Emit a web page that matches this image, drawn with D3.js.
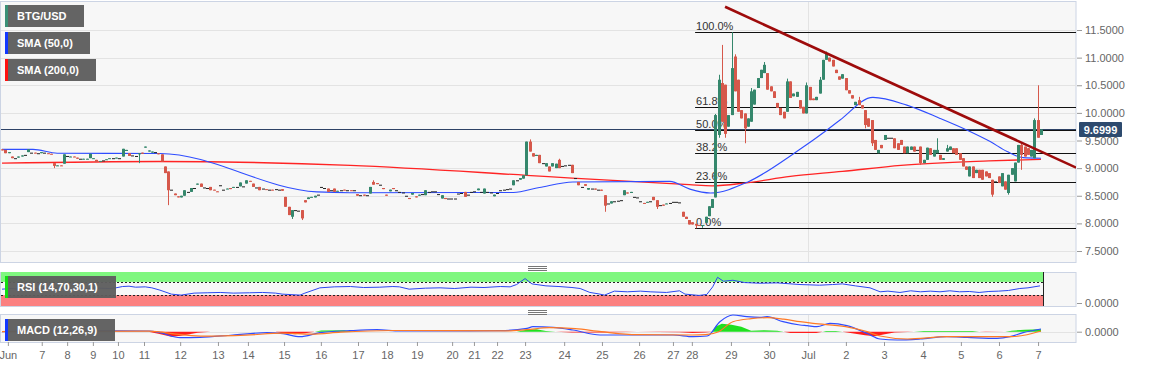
<!DOCTYPE html>
<html>
<head>
<meta charset="utf-8">
<script src="https://cdn.jsdelivr.net/npm/d3@7"></script>
<style>
  body { margin: 0; background: #fff; }
  svg text { font-family: "Liberation Sans", Arial, sans-serif; }
</style>
</head>
<body>
<svg id="chart" width="1153" height="367"></svg>
<script>
// ---- data (2h candles, index based) ----
var dayLabels = ['Jun','7','8','9','10','11','12','13','14','15','16','17','18','19','20','21','22','23','24','25','26','27','28','29','30','Jul','2','3','4','5','6','7']
var dayIndex = [1.8,12.2,20,27.9,35.6,43.6,54.7,66.3,75.5,86.6,97.9,109.3,118.2,127.4,138.2,144.9,152,160.6,172.6,184.2,195.6,206,211.8,223.8,235.5,247.5,259.1,270.8,282.8,294.4,306.1,318.1]

var opens = [
  9.34,9.33,9.27,9.21,9.18,9.19,9.21,9.24,9.29,9.28,
  9.28,9.27,9.27,9.28,9.27,9.26,9.09,9.04,9.05,9.08,
  9.22,9.20,9.21,9.19,9.17,9.16,9.16,9.18,9.17,9.15,
  9.12,9.14,9.15,9.17,9.18,9.18,9.18,9.21,9.31,9.27,
  9.23,9.22,9.25,9.28,9.37,9.30,9.28,9.29,9.27,9.25,
  9.03,8.94,8.61,8.54,8.49,8.47,8.50,8.57,8.57,8.64,
  8.70,8.72,8.65,8.64,8.66,8.61,8.58,8.69,8.61,8.62,
  8.64,8.65,8.66,8.67,8.67,8.72,8.77,8.72,8.65,8.66,
  8.63,8.62,8.61,8.61,8.62,8.61,8.62,8.48,8.30,8.12,
  8.24,8.23,8.24,8.42,8.44,8.47,8.47,8.52,8.66,8.64,
  8.63,8.60,8.63,8.58,8.60,8.61,8.60,8.60,8.60,8.53,
  8.51,8.52,8.51,8.54,8.75,8.73,8.70,8.64,8.52,8.58,
  8.64,8.60,8.57,8.56,8.50,8.46,8.52,8.49,8.50,8.53,
  8.51,8.57,8.58,8.58,8.53,8.45,8.46,8.45,8.45,8.45,
  8.54,8.55,8.57,8.52,8.57,8.58,8.60,8.57,8.54,8.57,
  8.56,8.49,8.55,8.60,8.61,8.62,8.63,8.69,8.78,8.79,
  8.81,8.87,9.48,9.27,9.22,9.24,9.09,9.03,9.03,9.03,
  9.00,9.15,9.04,9.05,9.06,9.06,8.82,8.75,8.66,8.71,
  8.61,8.63,8.63,8.61,8.61,8.51,8.36,8.36,8.40,8.41,
  8.42,8.51,8.56,8.55,8.48,8.47,8.40,8.37,8.38,8.40,
  8.48,8.42,8.33,8.34,8.35,8.37,8.39,8.39,8.38,8.21,
  8.12,8.06,8.02,7.99,7.97,7.96,8.01,8.13,8.28,8.47,
  9.60,10.54,10.51,9.75,9.96,11.02,10.60,10.05,9.99,9.75,
  9.84,10.15,10.45,10.63,10.72,10.72,10.48,10.39,10.18,10.09,
  10.02,10.02,10.57,10.30,10.29,10.23,10.11,9.99,10.47,10.26,
  10.23,10.35,10.60,10.96,11.00,10.96,10.78,10.66,10.62,10.63,
  10.41,10.32,10.14,10.23,10.14,10.05,9.90,9.87,9.51,9.27,
  9.42,9.51,9.55,9.55,9.54,9.45,9.51,9.39,9.27,9.33,
  9.39,9.33,9.39,9.09,9.15,9.36,9.21,9.27,9.24,9.15,
  9.30,9.33,9.36,9.36,9.27,9.18,9.03,8.85,9.03,8.91,
  8.97,8.97,8.94,8.91,8.79,8.76,8.85,8.67,8.76,8.55,
  8.88,8.76,9.10,9.42,9.39,9.36,9.21,9.18,9.87,9.60
]
var closes = [
  9.32,9.27,9.29,9.18,9.18,9.21,9.23,9.24,9.34,9.28,
  9.27,9.27,9.29,9.28,9.26,9.25,9.04,9.05,9.04,9.25,
  9.22,9.21,9.20,9.17,9.17,9.17,9.17,9.26,9.18,9.11,
  9.13,9.14,9.16,9.18,9.18,9.19,9.18,9.35,9.33,9.22,
  9.23,9.22,9.27,9.26,9.39,9.32,9.30,9.29,9.25,9.12,
  8.91,8.60,8.61,8.51,8.47,8.50,8.60,8.57,8.64,8.64,
  8.72,8.66,8.65,8.64,8.60,8.60,8.57,8.69,8.61,8.63,
  8.62,8.66,8.66,8.74,8.67,8.78,8.76,8.66,8.65,8.60,
  8.63,8.61,8.61,8.60,8.62,8.61,8.59,8.30,8.15,8.24,
  8.24,8.23,8.09,8.38,8.47,8.48,8.50,8.52,8.66,8.64,
  8.57,8.60,8.57,8.59,8.60,8.60,8.60,8.59,8.60,8.50,
  8.51,8.50,8.51,8.66,8.70,8.71,8.70,8.62,8.50,8.61,
  8.62,8.60,8.57,8.56,8.50,8.44,8.55,8.47,8.52,8.53,
  8.60,8.57,8.58,8.58,8.53,8.51,8.44,8.45,8.45,8.45,
  8.54,8.55,8.48,8.52,8.57,8.58,8.63,8.57,8.63,8.57,
  8.56,8.52,8.55,8.60,8.61,8.62,8.63,8.78,8.78,8.82,
  8.87,9.48,9.30,9.21,9.24,9.09,9.09,9.09,8.94,9.09,
  9.08,9.00,9.04,9.05,9.06,8.91,8.82,8.69,8.66,8.68,
  8.64,8.63,8.61,8.61,8.59,8.32,8.36,8.40,8.40,8.41,
  8.42,8.60,8.54,8.57,8.48,8.47,8.40,8.36,8.39,8.40,
  8.42,8.30,8.33,8.32,8.36,8.37,8.39,8.39,8.38,8.12,
  8.08,7.98,7.98,7.96,7.96,7.97,8.12,8.31,8.44,9.96,
  10.60,9.84,9.62,9.96,10.81,10.39,10.02,9.90,9.72,9.90,
  10.39,10.42,10.63,10.78,10.87,10.42,10.39,10.27,10.09,9.96,
  9.90,10.57,10.27,10.35,10.38,10.08,9.99,10.50,10.23,10.23,
  10.29,10.60,10.96,11.08,10.93,10.84,10.72,10.60,10.70,10.41,
  10.35,10.26,10.20,10.14,10.08,9.78,9.75,9.45,9.33,9.33,
  9.36,9.60,9.55,9.55,9.36,9.33,9.42,9.27,9.39,9.39,
  9.30,9.33,9.09,9.15,9.37,9.24,9.33,9.33,9.15,9.18,
  9.36,9.39,9.27,9.24,9.15,9.03,8.97,9.03,8.82,8.97,
  8.82,8.79,8.85,8.82,8.52,8.76,8.73,8.91,8.61,8.88,
  9.00,9.10,9.42,9.24,9.21,9.24,9.33,9.87,9.55,9.6999
]
// visible wick ends [candle index, price]
var wickHighs = [[114,8.78],[162,9.52],[171,9.17],[219,9.98],[220,10.69],[221,11.23],[224,11.46],[225,11.06],[230,10.45],[234,10.92],[241,10.62],[247,10.55],[251,10.65],[253,11.11],[263,10.29],[287,9.54],[290,9.42],[313,9.45],[317,9.90],[318,10.50]]
var wickLows = [[16,9.00],[42,9.09],[51,8.33],[89,8.08],[92,8.06],[185,8.21],[201,8.26],[213,7.91],[215,7.92],[220,9.55],[222,9.55],[228,9.45],[265,9.72],[267,9.40],[282,9.06],[304,8.48],[309,8.52],[313,8.97]]

var sma50 = [[0,9.34],[9.5,9.34],[17,9.27],[48.5,9.265],[96.7,8.57],[106.8,8.555],[157,8.56],[165,8.65],[175.3,8.75],[205,8.76],[211.2,8.62],[217.5,8.55],[229,8.75],[244,9.30],[253.3,9.69],[257.3,9.87],[267.4,10.28],[277.8,10.14],[288,9.90],[296.2,9.69],[303.4,9.48],[308.6,9.30],[313.5,9.19],[319,9.18]]
var sma200 = [[0,9.09],[48,9.12],[107,9.05],[161,8.87],[175,8.82],[211,8.70],[218,8.68],[228,8.73],[242,8.85],[258,8.94],[276,9.05],[303,9.13],[319,9.16]]

var yTicks = [7.5, 8, 8.5, 9, 9.5, 10, 10.5, 11, 11.5]
var fibHigh = 11.46, fibLow = 7.91, fibStart = 212.8
var fibLevels = [1, 0.618, 0.5, 0.382, 0.236, 0]
var fibLabels = ['100.0%', '61.8%', '50.0%', '38.2%', '23.6%', '0.0%']
var trendLine = [[222, 11.92], [329.8, 9.008]]
var lastPrice = 9.6999

var rsi = [[0,48],[3,50],[6,47],[9,51],[12,48],[15,50],[18,50],[21,48],[24,49],[27,51],[30,51],[33,50],[35,52],[37,56],[39,57],[41,54],[44,55],[46,52],[48.5,45],[52,33],[55,30],[59,36],[63,37],[67,38],[71,36],[76,37],[80,38],[84,36],[86,33],[91.5,30],[93,36],[97.6,52],[102,55],[107,56],[111,53],[116,54],[120,56],[122,55],[125,48],[130,51],[134.5,52],[139,50],[144,54],[148,53],[153,56],[156,55],[158,62],[160.6,80],[162.7,64],[167,58],[171,56],[175,53],[177.5,50],[180.5,38],[183,34],[185,30],[188,42],[192,40],[196,42],[199,40],[204,38],[208,43],[209.7,33],[214,29],[216.4,32],[218.2,55],[219.7,84],[221.5,72],[224.4,75],[228,68],[232.7,66],[238,67],[245,62],[251,60],[255,62],[258,64],[262,58],[266.5,52],[269.6,40],[272,42],[275.7,38],[279,43],[282,40],[285,42],[288,40],[291,43],[294,40],[297,41],[300,38],[303,41],[306,42],[309,44],[312.5,50],[315,52],[318.7,58]]

var macdLine = [[0,0],[14.7,0.01],[45.4,0.007],[48.5,-0.01],[54.7,-0.06],[60.8,-0.057],[70.9,-0.033],[81.4,-0.01],[86.3,-0.02],[91.5,-0.05],[97.6,-0.01],[106.8,0.01],[115.1,0.02],[122.2,0.007],[152.9,0.01],[161.2,0.033],[163,0.05],[169.2,0.043],[175.3,0.017],[183.6,-0.033],[193.7,-0.033],[206,-0.033],[212.2,-0.05],[216.5,-0.043],[220.4,0.1],[224.4,0.167],[228.7,0.15],[232.7,0.143],[234.9,0.15],[239.8,0.1],[245,0.067],[247.2,0.06],[250.2,0.05],[254.2,0.083],[259.4,0.06],[265.6,-0.017],[269.6,-0.073],[274.8,-0.083],[281.9,-0.073],[290.1,-0.05],[296.3,-0.057],[305.5,-0.067],[309.5,-0.05],[313.5,-0.01],[319,0.027]]
var signalLine = [[0,0],[45,0.005],[55,-0.03],[62,-0.045],[75,-0.035],[86,-0.015],[95,-0.025],[104,-0.005],[120,0.012],[155,0.008],[161,0.02],[168,0.04],[176,0.03],[184,0],[195,-0.03],[212,-0.033],[216,-0.03],[220,0],[224.4,0.1],[230,0.13],[235,0.14],[240,0.125],[245,0.1],[249,0.083],[259,0.05],[265.6,0],[269.6,-0.043],[278,-0.073],[290,-0.05],[300,-0.05],[310,-0.05],[319,0.007]]
var histogram = [[0,0],[45,0],[48,-0.02],[52,-0.05],[55,-0.04],[60,-0.01],[64,0],[84,0],[86,-0.015],[90,-0.025],[93,-0.015],[96,0],[98,0.012],[105,0.015],[108,0],[158,0],[161,0.02],[164,0.025],[167,0.008],[170,0],[175,-0.008],[185,-0.008],[195,0],[208,-0.005],[212,-0.012],[216,-0.008],[218,0],[219,0.05],[221,0.08],[224,0.07],[227,0.05],[230,0.01],[234,0.015],[238,0.01],[240,0],[242,-0.012],[250,-0.012],[252,0],[253,0.008],[256,0.008],[258,0],[262,-0.02],[265,-0.035],[268,-0.045],[271,-0.025],[274,-0.008],[280,0],[283,0.008],[298,0.008],[300,0],[302,-0.004],[308,0],[310,0.01],[314,0.02],[319,0.025]]

// ---- layout ----
var plotRight = 1076,
    mainBox = {top: 1, bottom: 262},
    rsiBox = {top: 272, bottom: 306},
    macdBox = {top: 314, bottom: 342},
    green = '#35876c', red = '#d6584b', grid = '#e3e3e3', border = '#ccd4e4'

var svg = d3.select('#chart')

var x = d3.scaleLinear().domain([0, 319]).range([2, 1041])
var y = d3.scaleLinear().domain([7.5, 11.5]).range([251, 30])
var yRsi = d3.scaleLinear().domain([0, 100]).range([305, 272])
var yMacd = d3.scaleLinear().domain([-0.1, 0.177]).range([341.7, 314])

// panels
;[mainBox, rsiBox, macdBox].forEach(function(b) {
    svg.append('rect')
        .attr('x', 0.5).attr('y', b.top + 0.5)
        .attr('width', plotRight - 0.5).attr('height', b.bottom - b.top)
        .attr('fill', '#f7f7f7').attr('stroke', border)
})

svg.append('defs').append('clipPath').attr('id', 'mainClip')
    .append('rect').attr('x', 1).attr('y', mainBox.top + 1)
    .attr('width', plotRight - 1).attr('height', mainBox.bottom - mainBox.top - 1)

// gridlines
svg.append('g').selectAll('line').data(yTicks).join('line')
    .attr('x1', 1).attr('x2', plotRight)
    .attr('y1', function(d) { return Math.round(y(d)) + 0.5 })
    .attr('y2', function(d) { return Math.round(y(d)) + 0.5 })
    .attr('stroke', grid)

var julX = Math.round(x(dayIndex[dayLabels.indexOf('Jul')])) + 0.5
;[mainBox, rsiBox, macdBox].forEach(function(b) {
    svg.append('line').attr('x1', julX).attr('x2', julX)
        .attr('y1', b.top + 1).attr('y2', b.bottom)
        .attr('stroke', grid)
})

var plot = svg.append('g').attr('clip-path', 'url(#mainClip)')

// fibonacci levels
fibLevels.forEach(function(lv, k) {
    var p = fibLow + lv * (fibHigh - fibLow)
    var yy = Math.round(y(p)) + 0.5
    plot.append('line').attr('x1', x(fibStart)).attr('x2', plotRight)
        .attr('y1', yy).attr('y2', yy).attr('stroke', '#111').attr('stroke-width', 1)
    plot.append('text').attr('x', x(fibStart) + 1).attr('y', yy - 3)
        .attr('font-size', 11).attr('fill', '#333').text(fibLabels[k])
})

// last price line
var lastY = Math.round(y(lastPrice)) + 0.5
plot.append('line').attr('x1', 1).attr('x2', plotRight)
    .attr('y1', lastY).attr('y2', lastY).attr('stroke', '#2d4266').attr('stroke-width', 1)

// moving averages
var smaLine = d3.line()
    .x(function(d) { return x(d[0]) })
    .y(function(d) { return y(d[1]) })
    .curve(d3.curveMonotoneX)

plot.append('path').datum(sma200).attr('d', smaLine)
    .attr('fill', 'none').attr('stroke', '#ff2424').attr('stroke-width', 1.3)
plot.append('path').datum(sma50).attr('d', smaLine)
    .attr('fill', 'none').attr('stroke', '#2f4dff').attr('stroke-width', 1.1)

// candles
var highMap = new Map(wickHighs), lowMap = new Map(wickLows)
var candles = closes.map(function(c, i) {
    var o = opens[i]
    return {
        i: i, o: o, c: c,
        h: Math.max(o, c, highMap.has(i) ? highMap.get(i) : -Infinity),
        l: Math.min(o, c, lowMap.has(i) ? lowMap.get(i) : Infinity)
    }
})
function candleColor(d) { return d.c > d.o ? green : (d.c < d.o ? red : '#222') }

var cg = plot.append('g')
cg.selectAll('line').data(candles).join('line')
    .attr('x1', function(d) { return Math.round(x(d.i)) + 0.5 })
    .attr('x2', function(d) { return Math.round(x(d.i)) + 0.5 })
    .attr('y1', function(d) { return y(d.h) })
    .attr('y2', function(d) { return y(d.l) })
    .attr('stroke', candleColor).attr('stroke-width', 1)
cg.selectAll('rect').data(candles).join('rect')
    .attr('x', function(d) { return Math.round(x(d.i)) - 1 })
    .attr('width', 3)
    .attr('y', function(d) { return y(Math.max(d.o, d.c)) })
    .attr('height', function(d) { return Math.max(1, Math.abs(y(d.o) - y(d.c))) })
    .attr('fill', candleColor)

// trend line
plot.append('line')
    .attr('x1', x(trendLine[0][0])).attr('y1', y(trendLine[0][1]))
    .attr('x2', x(trendLine[1][0])).attr('y2', y(trendLine[1][1]))
    .attr('stroke', '#9e0b0b').attr('stroke-width', 2.6)

// price axis
var yAxis = svg.append('g').attr('transform', 'translate(' + (plotRight + 1) + ',0)')
    .call(d3.axisRight(y).tickValues(yTicks).tickFormat(d3.format('.4f')).tickSize(5).tickPadding(3))
yAxis.select('.domain').remove()
yAxis.selectAll('line').attr('stroke', '#999')
yAxis.selectAll('text').attr('fill', '#666').attr('font-size', 11).attr('font-family', null)

// last price tag
var tag = svg.append('g')
tag.append('rect').attr('x', 1079).attr('y', lastY - 7.5).attr('width', 43).attr('height', 15)
    .attr('fill', '#2d4a6e').attr('rx', 1)
tag.append('text').attr('x', 1100.5).attr('y', lastY + 4).attr('text-anchor', 'middle')
    .attr('fill', '#fff').attr('font-size', 11).attr('font-weight', 'bold')
    .text(d3.format('.4f')(lastPrice))

// RSI panel
var rsiG = svg.append('g')
rsiG.append('rect').attr('x', 1).attr('y', yRsi(100)).attr('width', x(319) + 1)
    .attr('height', yRsi(70) - yRsi(100)).attr('fill', '#7ff77f')
rsiG.append('rect').attr('x', 1).attr('y', yRsi(30)).attr('width', x(319) + 1)
    .attr('height', yRsi(0) - yRsi(30) + 1).attr('fill', '#fb8080')
;[70, 30].forEach(function(v) {
    rsiG.append('line').attr('x1', 1).attr('x2', x(319) + 2)
        .attr('y1', Math.round(yRsi(v)) + 0.5).attr('y2', Math.round(yRsi(v)) + 0.5)
        .attr('stroke', '#222').attr('stroke-dasharray', '2,2')
})
rsiG.append('line').attr('x1', x(319) + 2.5).attr('x2', x(319) + 2.5)
    .attr('y1', yRsi(100)).attr('y2', yRsi(0) + 1).attr('stroke', '#222')
rsiG.append('path').datum(rsi)
    .attr('d', d3.line().x(function(d) { return x(d[0]) }).y(function(d) { return yRsi(d[1]) }))
    .attr('fill', 'none').attr('stroke', '#2a46f0').attr('stroke-width', 1)

var rsiAxis = svg.append('g').attr('transform', 'translate(' + (plotRight + 1) + ',-2)')
    .call(d3.axisRight(yRsi).tickValues([0]).tickFormat(d3.format('.4f')).tickSize(5).tickPadding(3))
rsiAxis.select('.domain').remove()
rsiAxis.selectAll('line').attr('stroke', '#999')
rsiAxis.selectAll('text').attr('fill', '#666').attr('font-size', 11).attr('font-family', null)

// MACD panel
var macdG = svg.append('g')
macdG.append('line').attr('x1', 1).attr('x2', plotRight)
    .attr('y1', Math.round(yMacd(0)) + 0.5).attr('y2', Math.round(yMacd(0)) + 0.5)
    .attr('stroke', grid)
macdG.append('path').datum(histogram)
    .attr('d', d3.area().x(function(d) { return x(d[0]) })
        .y0(yMacd(0)).y1(function(d) { return yMacd(Math.max(0, d[1])) }))
    .attr('fill', '#1fe01f')
macdG.append('path').datum(histogram)
    .attr('d', d3.area().x(function(d) { return x(d[0]) })
        .y0(yMacd(0)).y1(function(d) { return yMacd(Math.min(0, d[1])) }))
    .attr('fill', '#ff1d1d')
var macdPath = d3.line().x(function(d) { return x(d[0]) }).y(function(d) { return yMacd(d[1]) }).curve(d3.curveMonotoneX)
macdG.append('path').datum(macdLine).attr('d', macdPath)
    .attr('fill', 'none').attr('stroke', '#2f4dff').attr('stroke-width', 1.2)
macdG.append('path').datum(signalLine).attr('d', macdPath)
    .attr('fill', 'none').attr('stroke', '#ff7a26').attr('stroke-width', 1.2)

var macdAxis = svg.append('g').attr('transform', 'translate(' + (plotRight + 1) + ',0)')
    .call(d3.axisRight(yMacd).tickValues([0]).tickFormat(d3.format('.4f')).tickSize(5).tickPadding(3))
macdAxis.select('.domain').remove()
macdAxis.selectAll('line').attr('stroke', '#999')
macdAxis.selectAll('text').attr('fill', '#666').attr('font-size', 11).attr('font-family', null)

// date axis
var xAxis = svg.append('g').attr('transform', 'translate(0,' + macdBox.bottom + ')')
    .call(d3.axisBottom(x).tickValues(dayIndex)
        .tickFormat(function(d, k) { return dayLabels[k] }).tickSize(4).tickPadding(5))
xAxis.select('.domain').remove()
xAxis.selectAll('line').attr('stroke', '#999')
xAxis.selectAll('text').attr('fill', '#666').attr('font-size', 11).attr('font-family', null)

// panel drag handles
;[266, 310].forEach(function(hy) {
    [0, 2, 4].forEach(function(k) {
        svg.append('line').attr('x1', 528).attr('x2', 547)
            .attr('y1', hy + k + 0.5).attr('y2', hy + k + 0.5)
            .attr('stroke', '#777').attr('stroke-width', 1)
    })
})

// legend tags
var tags = [
    {text: 'BTG/USD', color: '#3a8f76', y: 5, w: 79},
    {text: 'SMA (50,0)', color: '#1238ff', y: 32, w: 85},
    {text: 'SMA (200,0)', color: '#ff1010', y: 59, w: 91},
    {text: 'RSI (14,70,30,1)', color: '#11dd11', y: 276, w: 111},
    {text: 'MACD (12,26,9)', color: '#1238ff', y: 319, w: 110}
]
var lg = svg.append('g').selectAll('g').data(tags).join('g')
    .attr('transform', function(d) { return 'translate(5,' + d.y + ')' })
lg.append('rect').attr('width', function(d) { return d.w }).attr('height', 22)
    .attr('fill', '#5e5e5e').attr('fill-opacity', 0.96)
lg.append('rect').attr('width', 3).attr('height', 22).attr('fill', function(d) { return d.color })
lg.append('text').attr('x', 12).attr('y', 15).attr('fill', '#fff')
    .attr('font-size', 11).attr('font-weight', 'bold').text(function(d) { return d.text })
</script>
</body>
</html>
